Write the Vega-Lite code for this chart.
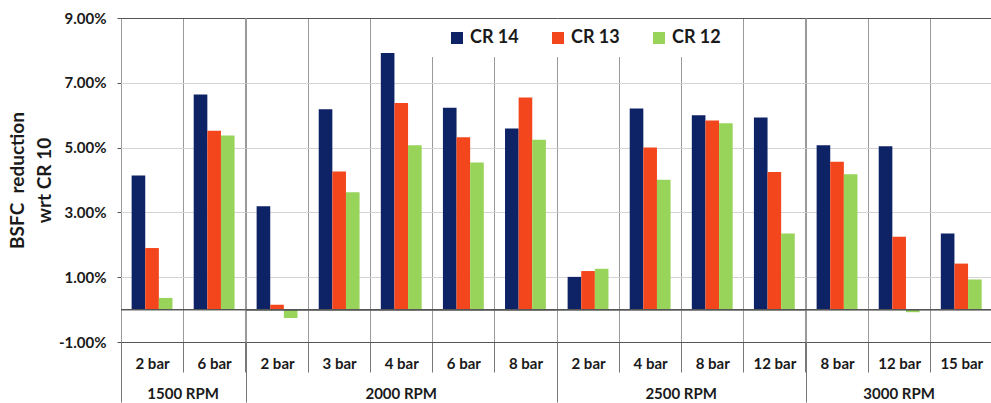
{
  "$schema": "https://vega.github.io/schema/vega-lite/v6.json",
  "padding": {"left": 8, "top": 11, "right": 0, "bottom": 0},
  "data": {"values": [
    {"rpm": "1500 RPM", "load": "2 bar", "series": "CR 14", "value": 0.0414},
    {"rpm": "1500 RPM", "load": "2 bar", "series": "CR 13", "value": 0.0190},
    {"rpm": "1500 RPM", "load": "2 bar", "series": "CR 12", "value": 0.0036},
    {"rpm": "1500 RPM", "load": "6 bar", "series": "CR 14", "value": 0.0664},
    {"rpm": "1500 RPM", "load": "6 bar", "series": "CR 13", "value": 0.0552},
    {"rpm": "1500 RPM", "load": "6 bar", "series": "CR 12", "value": 0.0537},
    {"rpm": "2000 RPM", "load": "2 bar", "series": "CR 14", "value": 0.0319},
    {"rpm": "2000 RPM", "load": "2 bar", "series": "CR 13", "value": 0.0015},
    {"rpm": "2000 RPM", "load": "2 bar", "series": "CR 12", "value": -0.0026},
    {"rpm": "2000 RPM", "load": "3 bar", "series": "CR 14", "value": 0.0618},
    {"rpm": "2000 RPM", "load": "3 bar", "series": "CR 13", "value": 0.0426},
    {"rpm": "2000 RPM", "load": "3 bar", "series": "CR 12", "value": 0.0362},
    {"rpm": "2000 RPM", "load": "4 bar", "series": "CR 14", "value": 0.0792},
    {"rpm": "2000 RPM", "load": "4 bar", "series": "CR 13", "value": 0.0638},
    {"rpm": "2000 RPM", "load": "4 bar", "series": "CR 12", "value": 0.0507},
    {"rpm": "2000 RPM", "load": "6 bar", "series": "CR 14", "value": 0.0623},
    {"rpm": "2000 RPM", "load": "6 bar", "series": "CR 13", "value": 0.0532},
    {"rpm": "2000 RPM", "load": "6 bar", "series": "CR 12", "value": 0.0454},
    {"rpm": "2000 RPM", "load": "8 bar", "series": "CR 14", "value": 0.0559},
    {"rpm": "2000 RPM", "load": "8 bar", "series": "CR 13", "value": 0.0655},
    {"rpm": "2000 RPM", "load": "8 bar", "series": "CR 12", "value": 0.0524},
    {"rpm": "2500 RPM", "load": "2 bar", "series": "CR 14", "value": 0.0101},
    {"rpm": "2500 RPM", "load": "2 bar", "series": "CR 13", "value": 0.0119},
    {"rpm": "2500 RPM", "load": "2 bar", "series": "CR 12", "value": 0.0126},
    {"rpm": "2500 RPM", "load": "4 bar", "series": "CR 14", "value": 0.0621},
    {"rpm": "2500 RPM", "load": "4 bar", "series": "CR 13", "value": 0.0500},
    {"rpm": "2500 RPM", "load": "4 bar", "series": "CR 12", "value": 0.0401},
    {"rpm": "2500 RPM", "load": "8 bar", "series": "CR 14", "value": 0.0600},
    {"rpm": "2500 RPM", "load": "8 bar", "series": "CR 13", "value": 0.0584},
    {"rpm": "2500 RPM", "load": "8 bar", "series": "CR 12", "value": 0.0575},
    {"rpm": "2500 RPM", "load": "12 bar", "series": "CR 14", "value": 0.0593},
    {"rpm": "2500 RPM", "load": "12 bar", "series": "CR 13", "value": 0.0425},
    {"rpm": "2500 RPM", "load": "12 bar", "series": "CR 12", "value": 0.0235},
    {"rpm": "3000 RPM", "load": "8 bar", "series": "CR 14", "value": 0.0507},
    {"rpm": "3000 RPM", "load": "8 bar", "series": "CR 13", "value": 0.0456},
    {"rpm": "3000 RPM", "load": "8 bar", "series": "CR 12", "value": 0.0418},
    {"rpm": "3000 RPM", "load": "12 bar", "series": "CR 14", "value": 0.0504},
    {"rpm": "3000 RPM", "load": "12 bar", "series": "CR 13", "value": 0.0225},
    {"rpm": "3000 RPM", "load": "12 bar", "series": "CR 12", "value": -0.0008},
    {"rpm": "3000 RPM", "load": "15 bar", "series": "CR 14", "value": 0.0235},
    {"rpm": "3000 RPM", "load": "15 bar", "series": "CR 13", "value": 0.0142},
    {"rpm": "3000 RPM", "load": "15 bar", "series": "CR 12", "value": 0.0093}
  ]},
  "facet": {
    "column": {
      "field": "rpm", "type": "nominal", "title": null,
      "header": {"labelOrient": "bottom", "labelFont": "Lato", "labelFontWeight": "bold", "labelFontSize": 15, "labelColor": "#1a1a1a", "labelPadding": 45}
    }
  },
  "spacing": 0,
  "bounds": "flush",
  "spec": {
    "width": {"step": 62.1, "for": "position"},
    "height": 324,
    "layer": [
      {
        "mark": {"type": "bar"},
        "encoding": {
          "x": {
            "field": "load", "type": "nominal",
            "sort": ["2 bar", "3 bar", "4 bar", "6 bar", "8 bar", "12 bar", "15 bar"],
            "scale": {"paddingInner": 0, "paddingOuter": 0},
            "axis": {
              "title": null, "labelAngle": 0, "tickBand": "extent", "grid": true,
              "gridColor": "#9a9a9a", "tickColor": "#777", "domainColor": "#555",
              "tickSize": {"condition": {"test": "datum.index < 0", "value": 60}, "value": 30},
              "labelPadding": -16, "labelFont": "Lato", "labelFontWeight": "bold", "labelFontSize": 15, "labelColor": "#1a1a1a"
            }
          },
          "xOffset": {"field": "series", "sort": ["CR 14", "CR 13", "CR 12"], "scale": {"paddingInner": 0, "paddingOuter": 0.78}},
          "y": {
            "field": "value", "type": "quantitative",
            "scale": {"domain": [-0.01, 0.09], "nice": false},
            "axis": {
              "values": [-0.01, 0.01, 0.03, 0.05, 0.07, 0.09], "format": ".2%",
              "labelExpr": "replace(datum.label, '\u2212', '-')",
              "title": ["BSFC\u00a0 reduction", "wrt CR 10"],
              "titleFont": "Lato", "titleFontSize": 19, "titleFontWeight": "bold", "titleLineHeight": 27, "titleColor": "#1a1a1a", "titlePadding": 4,
              "labelFont": "Lato", "labelFontWeight": "bold", "labelFontSize": 15, "labelColor": "#1a1a1a", "labelPadding": 11,
              "tickSize": 4, "tickColor": "#555", "domainColor": "#555",
              "gridColor": {"condition": {"test": "datum.value > 0.085", "value": "#555"}, "value": "#d4d4d4"}
            }
          },
          "color": {
            "field": "series", "type": "nominal",
            "scale": {"domain": ["CR 14", "CR 13", "CR 12"], "range": ["#0e2366", "#f4461c", "#98d35a"]},
            "legend": {
              "title": null, "orient": "none", "legendX": 311, "legendY": 1, "direction": "horizontal", "columns": 3,
              "symbolType": "square", "symbolSize": 144, "symbolStrokeWidth": 0,
              "labelFont": "Lato", "labelFontWeight": "bold", "labelFontSize": 18, "labelColor": "#1a1a1a",
              "columnPadding": 24, "fillColor": "white", "padding": 10, "symbolOffset": 6, "labelOffset": 4
            }
          }
        }
      },
      {
        "mark": {"type": "rule", "color": "#555555", "strokeWidth": 1},
        "encoding": {"y": {"datum": 0}}
      }
    ]
  },
  "resolve": {"scale": {"x": "independent", "xOffset": "independent"}, "axis": {"x": "independent"}},
  "config": {"view": {"stroke": null}, "font": "Lato"}
}
